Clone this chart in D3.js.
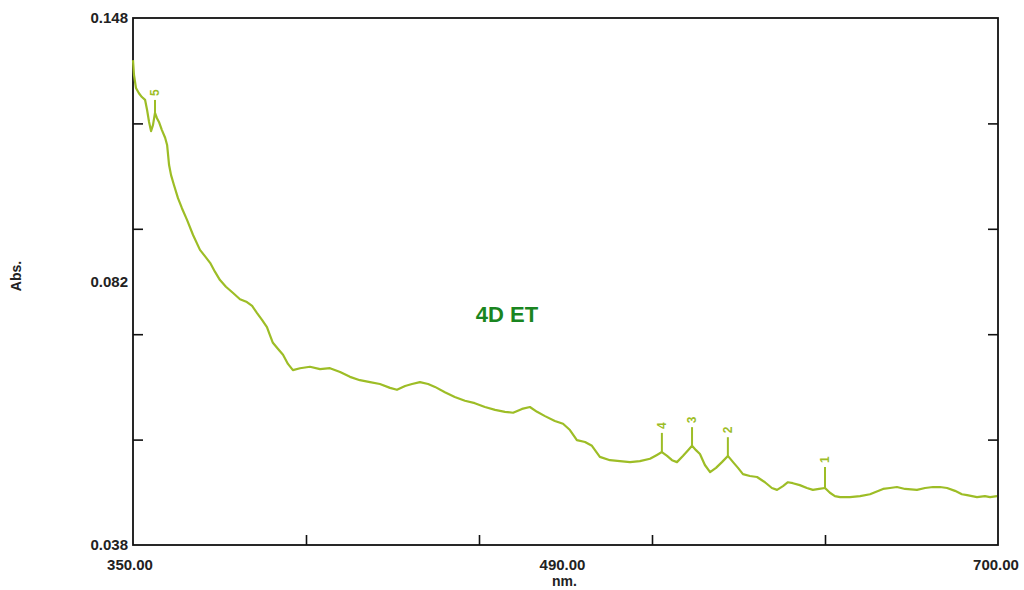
<!DOCTYPE html>
<html>
<head>
<meta charset="utf-8">
<script src="https://cdn.jsdelivr.net/npm/d3@7"></script>
<style>
  body { margin: 0; background: #fff; }
  svg { display: block; font-family: "Liberation Sans", Arial, sans-serif; }
</style>
</head>
<body>
<svg id="chart" width="1024" height="590"></svg>
<script>
// spectrum
const wavelength = [
  350.0, 350.4, 351.2, 352.4, 353.6, 354.9, 355.7, 356.5, 357.3, 358.1,
  358.9, 359.7, 360.5, 361.7, 363.0, 363.8, 364.6, 365.4, 366.6, 368.2,
  369.8, 371.9, 374.3, 377.1, 379.1, 381.2, 383.2, 385.2, 387.6, 390.5,
  393.3, 396.1, 398.2, 400.2, 402.2, 404.2, 405.4, 406.6, 408.7, 410.7,
  412.7, 414.7, 417.6, 421.6, 425.7, 429.7, 433.8, 437.8, 441.8, 445.9,
  449.9, 454.0, 456.8, 460.1, 462.9, 466.1, 469.4, 472.2, 476.2, 480.2,
  484.3, 488.3, 492.4, 496.5, 500.5, 503.8, 507.4, 510.6, 513.5, 516.7,
  520.7, 524.0, 526.8, 529.6, 532.9, 535.7, 538.9, 543.0, 547.0, 551.1,
  555.1, 559.2, 562.0, 564.0, 566.1, 568.1, 570.1, 572.5, 574.6, 576.2,
  577.8, 579.4, 581.4, 583.5, 585.9, 588.3, 590.7, 592.8, 594.8, 596.8,
  599.6, 602.5, 605.7, 608.5, 610.6, 613.0, 615.0, 617.0, 619.8, 622.7,
  625.1, 627.6, 630.0, 632.0, 634.0, 636.1, 640.1, 644.2, 648.2, 653.5,
  656.3, 659.1, 662.4, 667.2, 670.5, 673.7, 676.5, 679.4, 682.6, 685.4,
  687.5, 691.5, 694.7, 696.8, 699.6
]
const absorbance = [
  0.1392, 0.1361, 0.1334, 0.1323, 0.1315, 0.1309, 0.1288, 0.1263, 0.1244, 0.1257,
  0.1282, 0.1271, 0.1263, 0.1246, 0.1230, 0.1215, 0.1173, 0.1152, 0.1131, 0.1104,
  0.1083, 0.1058, 0.1027, 0.0996, 0.0983, 0.0969, 0.0950, 0.0933, 0.0919, 0.0906,
  0.0893, 0.0887, 0.0879, 0.0864, 0.0850, 0.0835, 0.0818, 0.0802, 0.0789, 0.0777,
  0.0758, 0.0745, 0.0749, 0.0752, 0.0747, 0.0749, 0.0741, 0.0731, 0.0724, 0.0720,
  0.0716, 0.0708, 0.0704, 0.0712, 0.0716, 0.0720, 0.0716, 0.0710, 0.0699, 0.0689,
  0.0681, 0.0676, 0.0668, 0.0662, 0.0658, 0.0656, 0.0664, 0.0668, 0.0658, 0.0649,
  0.0639, 0.0633, 0.0620, 0.0599, 0.0595, 0.0587, 0.0564, 0.0557, 0.0555, 0.0553,
  0.0555, 0.0560, 0.0568, 0.0574, 0.0566, 0.0557, 0.0553, 0.0566, 0.0578, 0.0587,
  0.0578, 0.0570, 0.0547, 0.0532, 0.0541, 0.0553, 0.0566, 0.0553, 0.0541, 0.0528,
  0.0524, 0.0522, 0.0511, 0.0499, 0.0495, 0.0503, 0.0511, 0.0509, 0.0505, 0.0499,
  0.0495, 0.0497, 0.0499, 0.0489, 0.0482, 0.0480, 0.0480, 0.0482, 0.0486, 0.0497,
  0.0499, 0.0501, 0.0497, 0.0495, 0.0499, 0.0501, 0.0501, 0.0499, 0.0493, 0.0486,
  0.0484, 0.0480, 0.0482, 0.0480, 0.0482
]

// picked peaks
const peakLabels = ["5", "4", "3", "2", "1"]
const peakNm = [358.9, 564.0, 576.2, 590.7, 630.0]
const peakAbs = [0.1282, 0.0574, 0.0587, 0.0566, 0.0499]
const peakTop = [0.1309, 0.0614, 0.0626, 0.0605, 0.0543]

const xTickLabels = ["350.00", "490.00", "700.00"]
const yTickLabels = ["0.148", "0.082", "0.038"]
const xDomain = [350, 700]
const yDomain = [0.038, 0.148]

const lineColor = "#9dbd26"

const margin = {top: 18, right: 26, bottom: 45, left: 133}
const W = 1024, H = 590
const w = W - margin.left - margin.right
const h = H - margin.top - margin.bottom

const svg = d3.select("#chart")
const g = svg.append("g")
    .attr("transform", `translate(${margin.left},${margin.top})`)

const x = d3.scaleLinear().domain(xDomain).range([0, w])
const y = d3.scaleLinear().domain(yDomain).range([h, 0])

// tick marks at fifths, pointing inward
const fifths = (d) => d3.range(1, 5).map(i => d[0] + (d[1] - d[0]) * i / 5)

const axisStyle = sel => {
  sel.select(".domain").remove()
  sel.selectAll("line").attr("stroke", "#111").attr("stroke-width", 1.6)
}

g.append("g")
    .attr("transform", `translate(0,${h})`)
    .call(d3.axisBottom(x).tickValues(fifths(xDomain)).tickSize(-10).tickFormat(""))
    .call(axisStyle)

g.append("g")
    .call(d3.axisLeft(y).tickValues(fifths(yDomain)).tickSize(-10).tickFormat(""))
    .call(axisStyle)

g.append("g")
    .attr("transform", `translate(${w},0)`)
    .call(d3.axisRight(y).tickValues(fifths(yDomain)).tickSize(-10).tickFormat(""))
    .call(axisStyle)

g.append("rect")
    .attr("width", w).attr("height", h)
    .attr("fill", "none")
    .attr("stroke", "#111")
    .attr("stroke-width", 1.8)

// labels spread evenly along each axis, as the instrument software does
const spread = (n, r) => d3.range(n).map(i => r[0] + (r[1] - r[0]) * i / (n - 1))
const xLabPos = spread(xTickLabels.length, x.range())
const yLabPos = spread(yTickLabels.length, [0, h])

g.selectAll(".xlab")
  .data(xTickLabels)
  .join("text")
    .attr("x", (d, i) => xLabPos[i] + (i === xTickLabels.length - 1 ? -2 : -3))
    .attr("y", h + 25)
    .attr("text-anchor", "middle")
    .attr("font-size", 15)
    .attr("font-weight", "bold")
    .attr("fill", "#222")
    .text(d => d)

g.selectAll(".ylab")
  .data(yTickLabels)
  .join("text")
    .attr("x", -5)
    .attr("y", (d, i) => yLabPos[i])
    .attr("dy", "0.35em")
    .attr("text-anchor", "end")
    .attr("font-size", 15)
    .attr("font-weight", "bold")
    .attr("fill", "#222")
    .text(d => d)

svg.append("text")
    .attr("x", margin.left + w / 2 - 1)
    .attr("y", H - 4)
    .attr("text-anchor", "middle")
    .attr("font-size", 14)
    .attr("font-weight", "bold")
    .attr("fill", "#222")
    .text("nm.")

svg.append("text")
    .attr("transform", `translate(21,${margin.top + 258}) rotate(-90)`)
    .attr("text-anchor", "middle")
    .attr("font-size", 14)
    .attr("font-weight", "bold")
    .attr("fill", "#222")
    .text("Abs.")

// spectrum
const pts = wavelength.map((d, i) => [d, absorbance[i]])
g.append("path")
    .datum(pts)
    .attr("fill", "none")
    .attr("stroke", lineColor)
    .attr("stroke-width", 2.2)
    .attr("stroke-linejoin", "round")
    .attr("d", d3.line().x(d => x(d[0])).y(d => y(d[1])))

// peak markers
g.selectAll(".spike")
  .data(peakNm)
  .join("line")
    .attr("x1", d => x(d)).attr("x2", d => x(d))
    .attr("y1", (d, i) => y(peakAbs[i]))
    .attr("y2", (d, i) => y(peakTop[i]))
    .attr("stroke", lineColor)
    .attr("stroke-width", 2)

g.selectAll(".peaklab")
  .data(peakLabels)
  .join("text")
    .attr("transform", (d, i) => `translate(${x(peakNm[i]) + 4},${y(peakTop[i]) - 4}) rotate(-90)`)
    .attr("font-size", 12)
    .attr("font-weight", "bold")
    .attr("fill", lineColor)
    .text(d => d)

g.append("text")
    .attr("x", 374)
    .attr("y", 304)
    .attr("text-anchor", "middle")
    .attr("font-size", 22)
    .attr("font-weight", "bold")
    .attr("fill", "#1a8520")
    .text("4D ET")
</script>
</body>
</html>
